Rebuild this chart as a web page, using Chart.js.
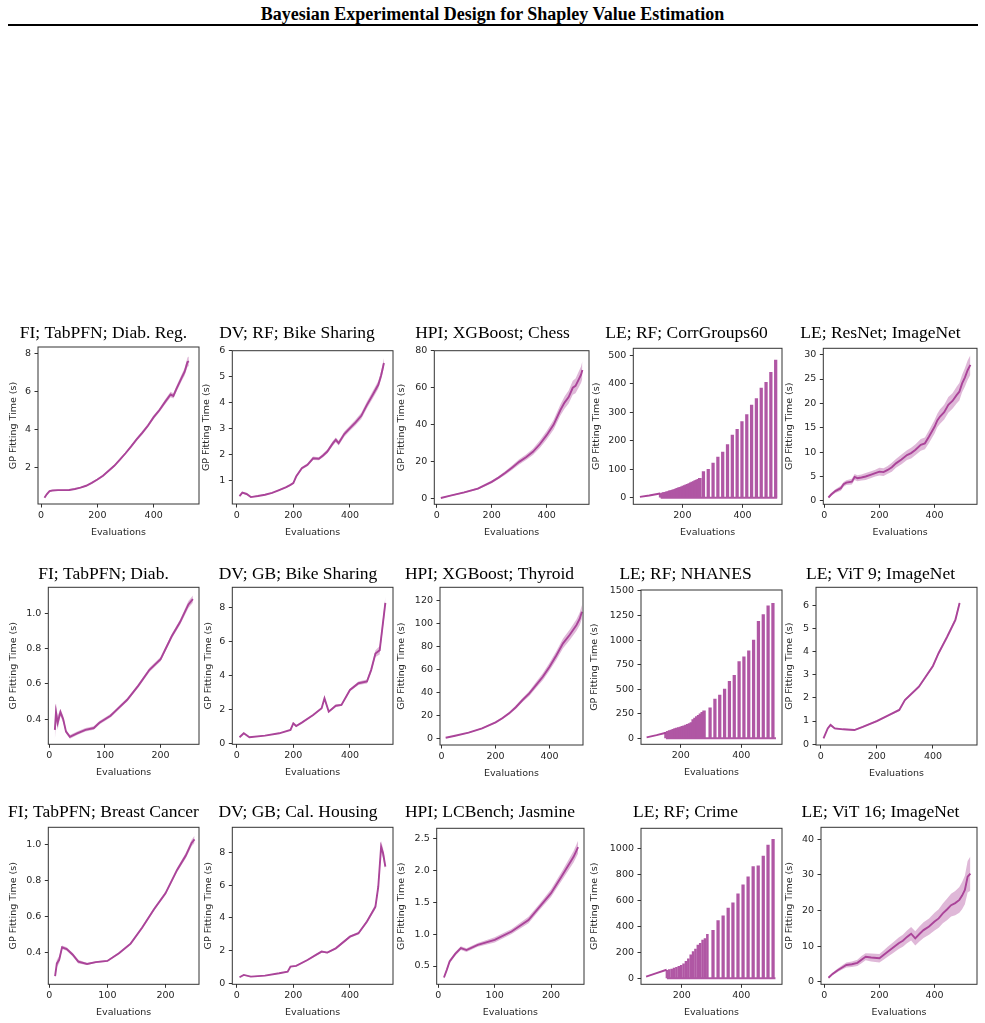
<!DOCTYPE html>
<html>
<head>
<meta charset="utf-8">
<script src="https://cdn.jsdelivr.net/npm/chart.js@4.4.1/dist/chart.umd.min.js"></script>
<style>
  body { margin: 0; background: #fff; }
  #page { position: relative; width: 985px; height: 1023px; overflow: hidden; }
  #head { position: absolute; left: 0; top: 4px; width: 985px; text-align: center;
          font: bold 18px "Liberation Serif", serif; color: #000; }
  #rule { position: absolute; left: 8px; top: 24px; width: 970px; height: 2px; background: #000; }
  canvas { position: absolute; }
</style>
</head>
<body>
<div id="page">
  <div id="head">Bayesian Experimental Design for Shapley Value Estimation</div>
  <div id="rule"></div>
</div>
<script>
// GP fitting time (s) against number of evaluations

// FI; TabPFN; Diab. Reg.
const fiDiabRegX = [12,20,30,40,60,80,100,120,140,160,180,200,220,240,260,280,300,320,340,360,380,400,420,440,460,470,480,500,510,520,525];
const fiDiabRegY = [0.42,0.6,0.77,0.8,0.82,0.82,0.83,0.88,0.95,1.05,1.2,1.38,1.58,1.84,2.1,2.42,2.76,3.12,3.5,3.85,4.22,4.66,5.02,5.45,5.85,5.78,6.12,6.75,7.05,7.55,7.6];
const fiDiabRegSd = [0.03,0.03,0.03,0.03,0.03,0.03,0.03,0.03,0.03,0.04,0.04,0.05,0.05,0.05,0.06,0.06,0.07,0.07,0.08,0.1,0.09,0.1,0.1,0.12,0.15,0.14,0.15,0.18,0.2,0.25,0.25];

// DV; RF; Bike Sharing
const dvRfBikeX = [10,20,35,50,75,100,125,150,175,190,200,210,230,250,270,290,305,320,340,350,360,380,400,420,440,460,480,500,510,520];
const dvRfBikeY = [0.42,0.55,0.5,0.38,0.42,0.47,0.54,0.65,0.76,0.85,0.92,1.17,1.49,1.62,1.87,1.85,1.98,2.13,2.45,2.58,2.45,2.8,3.03,3.25,3.5,3.92,4.3,4.69,5.05,5.53];
const dvRfBikeSd = [0.04,0.04,0.03,0.02,0.02,0.02,0.02,0.03,0.03,0.03,0.04,0.05,0.05,0.06,0.07,0.06,0.07,0.08,0.09,0.09,0.09,0.1,0.1,0.11,0.12,0.13,0.14,0.15,0.16,0.18];

// HPI; XGBoost; Chess
const hpiChessX = [15,50,100,150,200,225,250,275,300,325,350,375,400,425,450,465,480,495,505,515,525,530];
const hpiChessY = [0.5,1.8,3.5,5.6,9.2,11.5,14.1,17.0,20,22.5,25.4,29.5,34.4,40,48,52,55,60,61,64,67,69.6];
const hpiChessSd = [0.2,0.3,0.4,0.5,0.7,0.8,1,1.2,1.4,1.5,1.7,2,2.3,2.6,3,3.3,3.5,3.8,4,4.3,4.5,4.8];

// LE; RF; CorrGroups60 (refits show up as spikes)
const corrRampX = [59,90,126];
const corrRampY = [3,8,15];
const corrBaseX = [128,515];
const corrBaseY = [0,0];
const corrDenseX = [128,133,138,143,148,153,158,163,168,173,178,183,188,193,198,203,208,213,218,223,228,233,238,243,248,253,258];
const corrDenseY = [15,16,18,19,21,22,24,25,27,29,30,33,35,37,38,41,43,45,47,50,52,55,57,60,62,65,68];
const corrSparseX = [270,286,302,318,334,350,366,382,398,414,430,446,462,478,494,510];
const corrSparseY = [92,100,122,143,160,187,220,240,267,292,325,348,385,405,440,483];

// LE; ResNet; ImageNet
const resnetX = [15,25,40,60,70,80,100,110,120,135,150,170,185,200,215,230,245,260,280,300,315,330,350,365,380,400,410,420,435,450,465,480,490,500,510,520,530];
const resnetY = [0.7,1.3,2.0,2.6,3.4,3.75,3.95,4.9,4.65,4.8,5.0,5.4,5.7,6.0,5.9,6.35,6.9,7.7,8.5,9.4,9.8,10.45,11.5,11.8,13.2,15.2,16.5,17.3,18.2,19.7,20.5,21.7,22.4,24.1,25.3,26.8,27.9];
const resnetSd = [0.2,0.3,0.4,0.5,0.5,0.5,0.6,0.6,0.6,0.6,0.7,0.7,0.7,0.8,0.8,0.8,0.9,0.9,1,1,1.1,1.1,1.2,1.2,1.3,1.4,1.4,1.5,1.5,1.6,1.6,1.7,1.8,1.8,1.9,2,2];

// FI; TabPFN; Diab.
const fiDiabX = [10,12,15,20,25,30,37,50,65,80,90,100,110,120,140,160,180,200,220,235,250,258];
const fiDiabY = [0.34,0.44,0.38,0.44,0.40,0.33,0.30,0.32,0.34,0.35,0.38,0.40,0.42,0.45,0.51,0.59,0.68,0.74,0.87,0.95,1.05,1.08];
const fiDiabSd = [0.06,0.05,0.04,0.02,0.02,0.01,0.01,0.01,0.01,0.01,0.01,0.01,0.01,0.01,0.01,0.01,0.012,0.012,0.013,0.015,0.02,0.02];

// DV; GB; Bike Sharing
const dvGbBikeX = [10,25,45,100,150,190,200,210,230,270,300,310,325,350,370,400,430,460,475,490,505,515,525];
const dvGbBikeY = [0.36,0.59,0.36,0.45,0.59,0.79,1.18,1.02,1.22,1.67,2.07,2.66,1.87,2.22,2.27,3.15,3.55,3.65,4.34,5.3,5.5,6.9,8.3];
const dvGbBikeSd = [0.03,0.03,0.02,0.02,0.02,0.03,0.05,0.04,0.04,0.05,0.06,0.1,0.06,0.07,0.07,0.08,0.1,0.12,0.15,0.2,0.25,0.3,0.35];

// HPI; XGBoost; Thyroid
const hpiThyroidX = [15,50,100,150,200,225,250,275,300,325,350,375,400,425,450,475,500,512,520];
const hpiThyroidY = [0.5,2.2,4.9,8.7,13.9,17.5,21.7,27,33.3,39,46.3,53.5,62.3,72,82.6,90,98.5,104,110];
const hpiThyroidSd = [0.2,0.3,0.4,0.6,0.8,1,1.2,1.5,1.8,2.2,2.6,3,3.4,3.8,4.2,4.6,5,5.5,6];

// LE; RF; NHANES
const nhanesRampX = [87,120,151];
const nhanesRampY = [10,32,57];
const nhanesBaseX = [151,515];
const nhanesBaseY = [0,0];
const nhanesDenseX = [151,157,163,169,175,181,187,193,199,205,211,217,223,229,235,241,247,253,259,265,271,277];
const nhanesDenseY = [60,70,78,85,92,98,104,110,115,122,128,135,142,150,160,190,205,220,235,250,265,280];
const nhanesSparseX = [297,313,329,345,361,377,393,409,425,441,457,473,489,505];
const nhanesSparseY = [310,400,440,500,580,640,780,830,890,1000,1190,1260,1350,1375];

// LE; ViT 9; ImageNet
const vit9X = [10,25,35,50,80,120,150,200,250,280,300,350,400,420,450,480,495];
const vit9Y = [0.25,0.68,0.83,0.68,0.64,0.61,0.75,1.0,1.3,1.48,1.91,2.49,3.39,3.94,4.64,5.39,6.12];
const vit9Sd = [0.02,0.04,0.05,0.04,0.03,0.03,0.03,0.04,0.04,0.05,0.05,0.06,0.07,0.08,0.09,0.1,0.12];

// FI; TabPFN; Breast Cancer
const fiBreastX = [10,13,17,22,30,40,50,65,80,100,120,140,160,180,200,220,235,245,250];
const fiBreastY = [0.27,0.34,0.36,0.43,0.42,0.39,0.35,0.337,0.347,0.354,0.397,0.45,0.54,0.64,0.73,0.86,0.94,1.01,1.03];
const fiBreastSd = [0.01,0.02,0.02,0.01,0.01,0.01,0.01,0.005,0.005,0.005,0.006,0.007,0.008,0.009,0.01,0.012,0.015,0.018,0.02];

// DV; GB; Cal. Housing
const dvGbCalX = [10,25,50,100,150,180,190,210,250,280,300,320,350,400,430,460,490,500,510,517,525];
const dvGbCalY = [0.39,0.53,0.43,0.49,0.63,0.73,1.04,1.08,1.44,1.75,1.95,1.89,2.15,2.86,3.07,3.78,4.69,5.9,8.34,7.94,7.12];
const dvGbCalSd = [0.03,0.03,0.02,0.02,0.02,0.03,0.04,0.04,0.04,0.05,0.06,0.05,0.06,0.07,0.08,0.1,0.15,0.25,0.35,0.3,0.25];

// HPI; LCBench; Jasmine
const jasmineX = [10,15,20,30,40,50,70,100,130,160,180,200,220,240,248];
const jasmineY = [0.32,0.44,0.57,0.69,0.78,0.75,0.83,0.91,1.04,1.22,1.43,1.64,1.92,2.21,2.36];
const jasmineSd = [0.02,0.02,0.03,0.03,0.03,0.03,0.03,0.04,0.04,0.05,0.05,0.06,0.07,0.09,0.1];

// LE; RF; Crime
const crimeRampX = [80,115,149];
const crimeRampY = [13,40,66];
const crimeBaseX = [150,515];
const crimeBaseY = [0,0];
const crimeDenseX = [150,158,166,174,182,190,198,206,214,222,230,238,246,254,262,270,278,286];
const crimeDenseY = [62,68,72,78,85,92,100,112,130,150,180,205,225,255,270,295,305,338];
const crimeSparseX = [305,322,339,356,372,389,406,423,440,457,474,490,507];
const crimeSparseY = [370,445,480,540,580,650,720,780,860,865,940,1025,1070];

// LE; ViT 16; ImageNet
const vit16X = [15,30,50,65,80,100,120,135,150,170,200,215,230,250,270,285,300,315,330,345,360,380,400,415,430,445,460,475,490,500,510,520,530];
const vit16Y = [1.1,2.2,3.3,4.0,4.7,4.9,5.3,6.2,7.0,6.8,6.6,7.5,8.4,9.6,10.8,11.5,12.6,13.5,12.2,13.4,14.5,15.5,16.9,17.8,19.2,20.3,21.5,22.1,23,24.2,25.8,29.5,30.4];
const vit16Sd = [0.3,0.4,0.5,0.6,0.7,0.8,0.9,1,1,1.1,1.2,1.3,1.4,1.5,1.6,1.7,1.8,1.9,2,2.1,2.2,2.3,2.5,2.6,2.8,3,3.2,3.4,3.6,3.8,4,4.4,4.8];

// tick labels
const xTicksLong = [0,200,400];
const xTicksShort = [0,100,200];
const xTicksLE = [200,400];

const PURPLE = '#AA4499';
const BAND = 'rgba(170,68,153,0.38)';
const SPIKE = '#B057A4';
const INK = '#262626';
const SMALL = { family: 'DejaVu Sans', size: 9.5 };

function pts(xs, ys) {
  return xs.map((x, i) => ({ x: x, y: ys[i] }));
}

function curve(xs, ys, sd) {
  return [
    { data: pts(xs, ys), borderColor: PURPLE, borderWidth: 1.9, pointRadius: 0, fill: false },
    { data: xs.map((x, i) => ({ x: x, y: ys[i] + sd[i] })), borderColor: 'transparent', pointRadius: 0, fill: '+1', backgroundColor: BAND },
    { data: xs.map((x, i) => ({ x: x, y: ys[i] - sd[i] })), borderColor: 'transparent', pointRadius: 0, fill: false }
  ];
}

function spikes(rx, ry, bx, by, dx, dy, sx, sy, denseW) {
  return [
    { data: pts(rx, ry), borderColor: PURPLE, borderWidth: 1.9, pointRadius: 0, fill: false },
    { data: pts(bx, by), borderColor: SPIKE, borderWidth: 2, pointRadius: 0, fill: false },
    { type: 'bar', data: pts(dx, dy), backgroundColor: SPIKE, barThickness: denseW, grouped: false },
    { type: 'bar', data: pts(sx, sy), backgroundColor: SPIKE, barThickness: 2.6, grouped: false }
  ];
}

// plot box [left, top, right, bottom], y-label centre x, title centre y
const panels = [
  { title: 'FI; TabPFN; Diab. Reg.', sets: curve(fiDiabRegX, fiDiabRegY, fiDiabRegSd),
    box: [38, 347, 199, 504], yl: 14, ty: 333.7, x: [-11, 561], y: [0.09, 8.35], xt: xTicksLong, yt: [2,4,6,8] },
  { title: 'DV; RF; Bike Sharing', sets: curve(dvRfBikeX, dvRfBikeY, dvRfBikeSd),
    box: [232.3, 350.7, 393, 504], yl: 206.7, ty: 333.7, x: [-15.5, 552], y: [0.115, 6.0], xt: xTicksLong, yt: [1,2,3,4,5,6] },
  { title: 'HPI; XGBoost; Chess', sets: curve(hpiChessX, hpiChessY, hpiChessSd),
    box: [434.3, 350.7, 589, 504.3], yl: 401.7, ty: 333.7, x: [-8.7, 554], y: [-2.9, 80], xt: xTicksLong, yt: [0,20,40,60,80] },
  { title: 'LE; RF; CorrGroups60', sets: spikes(corrRampX, corrRampY, corrBaseX, corrBaseY, corrDenseX, corrDenseY, corrSparseX, corrSparseY, 3),
    box: [633.3, 348.3, 781.7, 504.3], yl: 596.7, ty: 333.7, x: [37, 531], y: [-23, 524.6], xt: xTicksLE, yt: [0,100,200,300,400,500] },
  { title: 'LE; ResNet; ImageNet', sets: curve(resnetX, resnetY, resnetSd),
    box: [823.3, 348.3, 976.7, 504.3], yl: 790, ty: 333.7, x: [-3.6, 554], y: [-0.7, 31.3], xt: xTicksLong, yt: [0,5,10,15,20,25,30] },

  { title: 'FI; TabPFN; Diab.', sets: curve(fiDiabX, fiDiabY, fiDiabSd),
    box: [48.3, 587.3, 199.3, 744.3], yl: 13.3, ty: 574.4, x: [-1.8, 269], y: [0.258, 1.147], xt: xTicksShort, yt: [0.4,0.6,0.8,1.0] },
  { title: 'DV; GB; Bike Sharing', sets: curve(dvGbBikeX, dvGbBikeY, dvGbBikeSd),
    box: [232.3, 587.3, 393, 744.3], yl: 208.3, ty: 574.4, x: [-15.5, 552], y: [-0.06, 9.22], xt: xTicksLong, yt: [0,2,4,6,8] },
  { title: 'HPI; XGBoost; Thyroid', sets: curve(hpiThyroidX, hpiThyroidY, hpiThyroidSd),
    box: [440, 587.3, 583.3, 745], yl: 401.7, ty: 574.4, x: [-6, 524], y: [-5.8, 131.3], xt: xTicksLong, yt: [0,20,40,60,80,100,120] },
  { title: 'LE; RF; NHANES', sets: spikes(nhanesRampX, nhanesRampY, nhanesBaseX, nhanesBaseY, nhanesDenseX, nhanesDenseY, nhanesSparseX, nhanesSparseY, 2.8),
    box: [641, 590, 781.7, 744.3], yl: 595, ty: 574.4, x: [68.4, 535], y: [-61, 1510], xt: xTicksLE, yt: [0,250,500,750,1000,1250,1500] },
  { title: 'LE; ViT 9; ImageNet', sets: curve(vit9X, vit9Y, vit9Sd),
    box: [816, 587.3, 976.7, 745], yl: 790, ty: 574.4, x: [-16.8, 557], y: [-0.04, 6.8], xt: xTicksLong, yt: [0,1,2,3,4,5,6] },

  { title: 'FI; TabPFN; Breast Cancer', sets: curve(fiBreastX, fiBreastY, fiBreastSd),
    box: [48.3, 827.3, 199.3, 984.3], yl: 13.3, ty: 812.7, x: [-1.7, 257.7], y: [0.224, 1.097], xt: xTicksShort, yt: [0.4,0.6,0.8,1.0] },
  { title: 'DV; GB; Cal. Housing', sets: curve(dvGbCalX, dvGbCalY, dvGbCalSd),
    box: [232.3, 827.3, 393, 984.3], yl: 208.3, ty: 812.7, x: [-15.5, 552], y: [-0.04, 9.52], xt: xTicksLong, yt: [0,2,4,6,8] },
  { title: 'HPI; LCBench; Jasmine', sets: curve(jasmineX, jasmineY, jasmineSd),
    box: [436.7, 828.3, 584.3, 984.3], yl: 401.7, ty: 812.7, x: [-2.9, 258.5], y: [0.214, 2.656], xt: xTicksShort, yt: [0.5,1.0,1.5,2.0,2.5] },
  { title: 'LE; RF; Crime', sets: spikes(crimeRampX, crimeRampY, crimeBaseX, crimeBaseY, crimeDenseX, crimeDenseY, crimeSparseX, crimeSparseY, 1.9),
    box: [641, 828.3, 781.7, 984.3], yl: 595, ty: 812.7, x: [62.8, 537], y: [-46, 1154], xt: xTicksLE, yt: [0,200,400,600,800,1000] },
  { title: 'LE; ViT 16; ImageNet', sets: curve(vit16X, vit16Y, vit16Sd),
    box: [821, 827.3, 976.7, 984.3], yl: 790, ty: 812.7, x: [-12, 554], y: [-0.73, 43.4], xt: xTicksLong, yt: [0,10,20,30,40] }
];

// top and right spines, like the matplotlib frame
const frame = {
  id: 'frame',
  afterDraw(chart) {
    const a = chart.chartArea, ctx = chart.ctx;
    ctx.save();
    ctx.strokeStyle = '#333';
    ctx.lineWidth = 1;
    ctx.strokeRect(a.left, a.top, a.right - a.left, a.bottom - a.top);
    ctx.restore();
  }
};

Chart.defaults.font.family = 'DejaVu Sans';

const page = document.getElementById('page');

panels.forEach(p => {
  const [pl, pt, pr, pb] = p.box;
  const left = Math.round(p.yl - 5.7);
  const top = Math.round(p.ty - 16.5);
  const width = Math.round(pr + 2 - left);
  const height = Math.round(pb + 34 - top);
  const yWidth = pl - left;
  const xHeight = height - (pb - top);
  const titleGap = pt - top - 27;

  const cv = document.createElement('canvas');
  cv.width = width;
  cv.height = height;
  cv.style.left = left + 'px';
  cv.style.top = top + 'px';
  page.appendChild(cv);

  const dec = p.yt.some(v => !Number.isInteger(v)) ? 1 : 0;

  new Chart(cv, {
    type: 'line',
    data: { datasets: p.sets },
    options: {
      responsive: false,
      animation: false,
      devicePixelRatio: 1,
      layout: { padding: { left: 0, right: 2, top: 0, bottom: 0 } },
      plugins: {
        legend: { display: false },
        tooltip: { enabled: false },
        title: {
          display: true,
          text: p.title,
          color: '#000',
          font: { family: 'Liberation Serif', size: 17.5, weight: 'normal' },
          padding: { top: 6, bottom: titleGap }
        }
      },
      scales: {
        x: {
          type: 'linear',
          min: p.x[0],
          max: p.x[1],
          offset: false,
          afterBuildTicks: s => { s.ticks = p.xt.map(v => ({ value: v })); },
          afterFit: s => { s.height = xHeight; },
          grid: { offset: false, drawOnChartArea: false, tickLength: 3.5, color: '#333' },
          border: { display: false },
          ticks: { font: SMALL, color: INK, padding: 2.5, maxRotation: 0, autoSkip: false,
                   callback: v => String(v) },
          title: { display: true, text: 'Evaluations', font: SMALL, color: INK, padding: 0 }
        },
        y: {
          type: 'linear',
          min: p.y[0],
          max: p.y[1],
          afterBuildTicks: s => { s.ticks = p.yt.map(v => ({ value: v })); },
          afterFit: s => { s.width = yWidth; },
          grid: { drawOnChartArea: false, tickLength: 3.5, color: '#333' },
          border: { display: false },
          ticks: { font: SMALL, color: INK, padding: 3.5, autoSkip: false,
                   callback: v => v.toFixed(dec) },
          title: { display: true, text: 'GP Fitting Time (s)', font: SMALL, color: INK, padding: 0 }
        }
      }
    },
    plugins: [frame]
  });
});
</script>
</body>
</html>
